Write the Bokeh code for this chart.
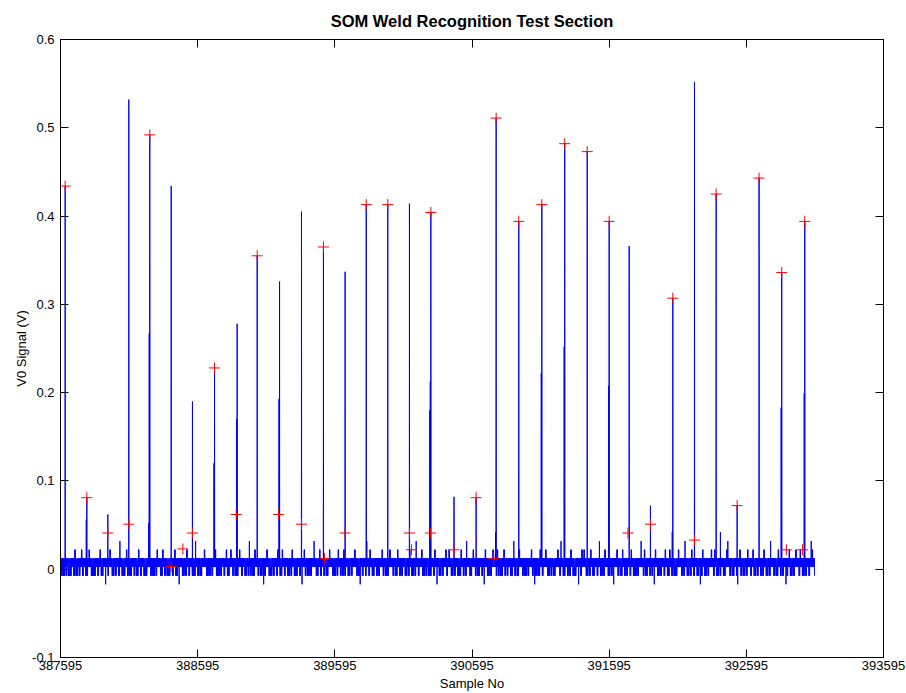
import numpy as np
from bokeh.plotting import figure
from bokeh.models import (Range1d, LinearAxis, FixedTicker, CustomJSTickFormatter,
                          BasicTickFormatter, ColumnDataSource)
from bokeh.embed import file_html
from bokeh.resources import INLINE

# ---------------- data ----------------
X_START = 387595
N_SAMPLES = 5498
LEVEL_ZERO = 0.0025      # quantisation levels of the signal
LEVEL_STEP = 0.0098

x_ticks = [387595, 388595, 389595, 390595, 391595, 392595, 393595]
y_ticks = [-0.1, 0, 0.1, 0.2, 0.3, 0.4, 0.5, 0.6]

# main weld spikes (sample offset from X_START, peak value)
peak_offsets = [34, 192, 345, 498, 651, 807, 962, 1123, 1288, 1434, 1597, 1757,
                1917, 2075, 2229, 2386, 2544, 2700, 2869, 3030, 3176, 3341, 3509,
                3676, 3840, 4000, 4146, 4301, 4464, 4622, 4780, 4933, 5093, 5258, 5426]
peak_values = [0.434, 0.081, 0.062, 0.532, 0.492, 0.434, 0.190, 0.229, 0.278, 0.355,
               0.326, 0.405, 0.365, 0.337, 0.413, 0.413, 0.414, 0.404, 0.082, 0.081,
               0.511, 0.394, 0.413, 0.482, 0.473, 0.394, 0.366, 0.072, 0.307, 0.552,
               0.425, 0.072, 0.443, 0.336, 0.394]

# lower shoulder samples next to some spikes
shoulder_offsets = [188, 647, 643, 1119, 1284, 1593, 2696, 2692, 3172, 3505, 3672,
                    3996, 4460, 4811, 5254, 5422]
shoulder_values = [0.056, 0.267, 0.052, 0.120, 0.170, 0.193, 0.2125, 0.180, 0.042,
                   0.222, 0.252, 0.208, 0.042, 0.042, 0.183, 0.199]

# recognised weld points (red crosses)
mark_offsets = [34, 192, 345, 498, 651, 807, 892, 962, 1123, 1281, 1434, 1590, 1757,
                1917, 1925, 2075, 2229, 2386, 2544, 2559, 2700, 2698, 2869, 3030,
                3176, 3159, 3341, 3509, 3676, 3840, 4000, 4137, 4301, 4464, 4622,
                4780, 4933, 5093, 5258, 5292, 5426, 5409]
mark_values = [0.434, 0.081, 0.041, 0.051, 0.492, 0.003, 0.023, 0.041, 0.228, 0.062,
               0.355, 0.062, 0.051, 0.365, 0.012, 0.041, 0.413, 0.413, 0.041, 0.022,
               0.404, 0.041, 0.022, 0.081, 0.511, 0.012, 0.394, 0.413, 0.482, 0.473,
               0.394, 0.041, 0.051, 0.307, 0.033, 0.425, 0.072, 0.443, 0.336, 0.022,
               0.394, 0.022]

# background noise, one code per block of 8 samples:
# '.' band only, '-' dip one level, '=' dip two levels, '+' up one level, '#' up two levels
NOISE = (
    "-.--+-.---..-+--.-.+-..--.+.----..-.+--..=.-.+.--.-..-#.---.+-.--..-.--+.-..---."
    ".+-.--.-+..--+.-.---..-.+--.=..--.-+.-..---#.-.--..+.--.-.-..+---.-..-.+--.+.-.-"
    "--.+.-..--.-#-.--+..-.--.=-.+.---.-..-+.--+.-..--.-+.---..-.=.+-.--.-..#.--.+-.."
    "-.--.+..---.-+.-.-+-..--.-..+.---=.-..-#.-+.--..-.-..+-.---.+..-.--+.-.-..--.-+."
    "--.-#.-..+--.-.---..-+.=.--.-..+-.+.--.-..---+.-.-#..--.+.-.--..-.=+.--.-.+..-+-"
    ".--.+-.-..--.#-.--+..-.--.-..+-.=-.--+.-..+.--.-.--..+.-#.--..-.-+.---..=.-+.+.-"
    "-.-+.--..-.#--.-+..--.-.=..+-.--+.-.-..-+.---.-..#.-+--..-.-.=+.--.-..-+.--+.-.-"
    "--.+..-.-#.--.-+.-..--.=-+.--.-..+.-+.--.-..--.+#.-.--..-=.+-.--.-+..-.+--.-..-."
    "-+.--.-#..-.--+.-.-..=-.+--.-.+..-+.--.-..-.#+.--..-.-+.=.--.-+..+-.--..-.#.-+.."
)
CODE_LEVEL = {"-": -1, "=": -2, "+": 2, "#": 3}
CODE_SAMPLES = {"-": 3, "=": 1, "+": 2, "#": 1}   # samples of the block that take the level

# ---------------- build series ----------------
def lv(k):
    return LEVEL_ZERO + LEVEL_STEP * k

xs = X_START + np.arange(N_SAMPLES)
ys = np.where(np.arange(N_SAMPLES) % 2 == 0, lv(0), lv(1))
for i, c in enumerate(NOISE):
    j = i * 8 + 1
    if c not in CODE_LEVEL:
        continue
    for s in range(CODE_SAMPLES[c]):
        if j + 2 * s < N_SAMPLES:
            ys[j + 2 * s] = lv(CODE_LEVEL[c])
for o, v in zip(shoulder_offsets, shoulder_values):
    ys[o] = v
for o, v in zip(peak_offsets, peak_values):
    ys[o] = v

sig = ColumnDataSource(dict(x=xs, y=ys))
marks = ColumnDataSource(dict(x=[X_START + o for o in mark_offsets], y=mark_values))

# ---------------- figure ----------------
FONT = "Liberation Sans"
p = figure(width=906, height=693, output_backend="svg", toolbar_location=None,
           x_range=Range1d(x_ticks[0], x_ticks[-1]), y_range=Range1d(y_ticks[0], y_ticks[-1]),
           min_border_left=60, min_border_right=23, min_border_top=39, min_border_bottom=36)
p.background_fill_color = "white"
p.border_fill_color = "white"
p.outline_line_color = "black"
p.outline_line_width = 1
p.xgrid.visible = False
p.ygrid.visible = False

p.title.text = "SOM Weld Recognition Test Section"
p.title.align = "center"
p.title.text_font = FONT
p.title.text_font_size = "16.5px"
p.title.text_font_style = "bold"
p.title.text_color = "black"
p.title.standoff = 19

blank = CustomJSTickFormatter(code="return '';")

def style_axis(ax, labels=True):
    ax.axis_line_color = "black"
    ax.major_tick_line_color = "black"
    ax.major_tick_in = 8
    ax.major_tick_out = 0
    ax.minor_tick_line_color = None
    ax.major_label_text_font = FONT
    ax.major_label_text_color = "black"
    ax.major_label_text_font_size = "13px"
    ax.axis_label_text_font = FONT
    ax.axis_label_text_font_size = "13px"
    ax.axis_label_text_font_style = "normal"
    ax.axis_label_text_color = "black"
    if not labels:
        ax.formatter = blank
        ax.major_label_standoff = 0

xa = p.xaxis[0]
xa.ticker = FixedTicker(ticks=x_ticks)
xa.formatter = BasicTickFormatter(use_scientific=False)
style_axis(xa)
xa.major_label_standoff = 3
xa.axis_label = "Sample No"
xa.axis_label_standoff = 3

ya = p.yaxis[0]
ya.ticker = FixedTicker(ticks=y_ticks)
ya.formatter = CustomJSTickFormatter(code="return Math.abs(tick) < 1e-9 ? '0' : tick.toFixed(1);")
style_axis(ya)
ya.major_label_standoff = 6
ya.axis_label = "V0 Signal (V)"
ya.axis_label_standoff = 0

top = LinearAxis(ticker=FixedTicker(ticks=x_ticks))
style_axis(top, labels=False)
p.add_layout(top, "above")
right = LinearAxis(ticker=FixedTicker(ticks=y_ticks))
style_axis(right, labels=False)
p.add_layout(right, "right")

p.line("x", "y", source=sig, line_color="blue", line_width=1)
p.scatter("x", "y", source=marks, marker="cross", size=11, line_color="red", line_width=1)

open("out.html", "w").write(file_html(p, INLINE))
